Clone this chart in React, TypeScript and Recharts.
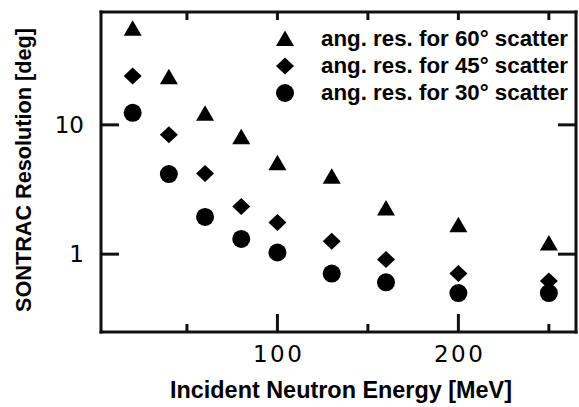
import React from 'react';
import { ScatterChart, Scatter, XAxis, YAxis, Legend } from 'recharts';

const energies = [20, 40, 60, 80, 100, 130, 160, 200, 250];
const res60 = [55.8, 23.6, 12.3, 8.1, 5.1, 4.0, 2.27, 1.69, 1.22];
const res45 = [23.9, 8.4, 4.2, 2.34, 1.76, 1.26, 0.91, 0.71, 0.62];
const res30 = [12.4, 4.16, 1.94, 1.31, 1.03, 0.707, 0.605, 0.5, 0.5];
const xTicks = [50, 100, 150, 200, 250];
const xLabeled = [100, 200];
const yTicks = [1, 10];
const seriesLabels = ['ang. res. for 60° scatter', 'ang. res. for 45° scatter', 'ang. res. for 30° scatter'];

const toPoints = (ys: number[]) => energies.map((x, i) => ({ x, y: ys[i] }));
const d60 = toPoints(res60);
const d45 = toPoints(res45);
const d30 = toPoints(res30);

const TICK_FONT = '"DejaVu Sans", sans-serif';
const LABEL_FONT = '"Liberation Sans", Arial, sans-serif';

const triPath = (cx: number, cy: number) => `${cx},${cy - 8} ${cx - 9},${cy + 7.5} ${cx + 9},${cy + 7.5}`;
const diaPath = (cx: number, cy: number) => `${cx},${cy - 8.5} ${cx + 9},${cy} ${cx},${cy + 8.5} ${cx - 9},${cy}`;

const Triangle = (p: any) => <polygon points={triPath(p.cx, p.cy)} fill="#000" />;
const Diamond = (p: any) => <polygon points={diaPath(p.cx, p.cy)} fill="#000" />;
const Dot = (p: any) => <circle cx={p.cx} cy={p.cy} r={9} fill="#000" />;

const TW = 3;
const TC = '#111';

const BottomTick = (props: any) => {
  const { x, y, payload } = props;
  const major = xLabeled.includes(payload.value);
  return (
    <g>
      <path d={`M${x},${y}V${y - (major ? 18 : 8)}`} stroke={TC} strokeWidth={TW} fill="none" />
      {major && (
        <text x={x} y={y + 30} textAnchor="middle" fontFamily={TICK_FONT} fontSize={23} fill="#000" stroke="none" textLength={49} lengthAdjust="spacing">
          {payload.value}
        </text>
      )}
    </g>
  );
};

const TopTick = (props: any) => {
  const { x, y } = props;
  return <path d={`M${x},${y}V${y + 8}`} stroke={TC} strokeWidth={TW} fill="none" />;
};

const LeftTick = (props: any) => {
  const { x, y, payload } = props;
  return (
    <g>
      <path d={`M${x},${y}H${x + 18}`} stroke={TC} strokeWidth={TW} fill="none" />
      <text x={x - 17} y={y + 8} textAnchor="end" fontFamily={TICK_FONT} fontSize={23} fill="#000" stroke="none">
        {payload.value}
      </text>
    </g>
  );
};

const RightTick = (props: any) => {
  const { x, y } = props;
  return <path d={`M${x},${y}H${x - 18}`} stroke={TC} strokeWidth={TW} fill="none" />;
};

const legendRows = [
  { cy: 38.5, Shape: Triangle },
  { cy: 66, Shape: Diamond },
  { cy: 93, Shape: Dot },
];

const renderLegend = () => (
  <svg width={579} height={407} style={{ display: 'block' }}>
    {legendRows.map((r, i) => (
      <g key={i}>
        <r.Shape cx={285} cy={r.cy} />
        <text x={321} y={r.cy + 7} fontFamily={LABEL_FONT} fontWeight="bold" fontSize={22} fill="#000" textLength={247} lengthAdjust="spacingAndGlyphs">
          {seriesLabels[i]}
        </text>
      </g>
    ))}
    <text x={341} y={398} textAnchor="middle" fontFamily={LABEL_FONT} fontWeight="bold" fontSize={23} fill="#000" textLength={342} lengthAdjust="spacingAndGlyphs">
      Incident Neutron Energy [MeV]
    </text>
    <text x={0} y={0} transform="translate(31,170) rotate(-90)" textAnchor="middle" fontFamily={LABEL_FONT} fontWeight="bold" fontSize={22} fill="#000" textLength={284} lengthAdjust="spacingAndGlyphs">
      SONTRAC Resolution [deg]
    </text>
  </svg>
);

const axisLine = { stroke: TC, strokeWidth: 3, strokeLinecap: 'square' as const };

export default function App() {
  return (
    <div style={{ position: 'absolute', left: 0, top: 0, background: '#fff' }}>
      <ScatterChart width={579} height={407} margin={{ top: 11, right: 2, bottom: 0, left: 0 }}>
        <XAxis xAxisId="b" type="number" dataKey="x" domain={[2.5, 265]} allowDataOverflow ticks={xTicks} interval={0}
          height={75} stroke={TC} tickSize={0} tickMargin={0} tickLine={false} axisLine={axisLine} tick={<BottomTick />} />
        <XAxis xAxisId="t" orientation="top" type="number" dataKey="x" domain={[2.5, 265]} allowDataOverflow ticks={xTicks} interval={0}
          height={1} stroke={TC} tickSize={0} tickMargin={0} tickLine={false} axisLine={axisLine} tick={<TopTick />} />
        <YAxis yAxisId="l" type="number" dataKey="y" scale="log" domain={[0.25, 74.6]} allowDataOverflow ticks={yTicks} interval={0}
          width={101} stroke={TC} tickSize={0} tickMargin={0} tickLine={false} axisLine={axisLine} tick={<LeftTick />} />
        <YAxis yAxisId="r" orientation="right" type="number" dataKey="y" scale="log" domain={[0.25, 74.6]} allowDataOverflow ticks={yTicks} interval={0}
          width={1} stroke={TC} tickSize={0} tickMargin={0} tickLine={false} axisLine={axisLine} tick={<RightTick />} />
        <Scatter name={seriesLabels[0]} data={d60} xAxisId="b" yAxisId="l" shape={Triangle} isAnimationActive={false} />
        <Scatter name={seriesLabels[1]} data={d45} xAxisId="b" yAxisId="l" shape={Diamond} isAnimationActive={false} />
        <Scatter name={seriesLabels[2]} data={d30} xAxisId="t" yAxisId="r" shape={Dot} isAnimationActive={false} />
        <Legend layout="vertical" align="center" verticalAlign="middle" content={renderLegend}
          wrapperStyle={{ position: 'absolute', left: 0, top: 0, width: 579, height: 407, pointerEvents: 'none' }} />
      </ScatterChart>
    </div>
  );
}
